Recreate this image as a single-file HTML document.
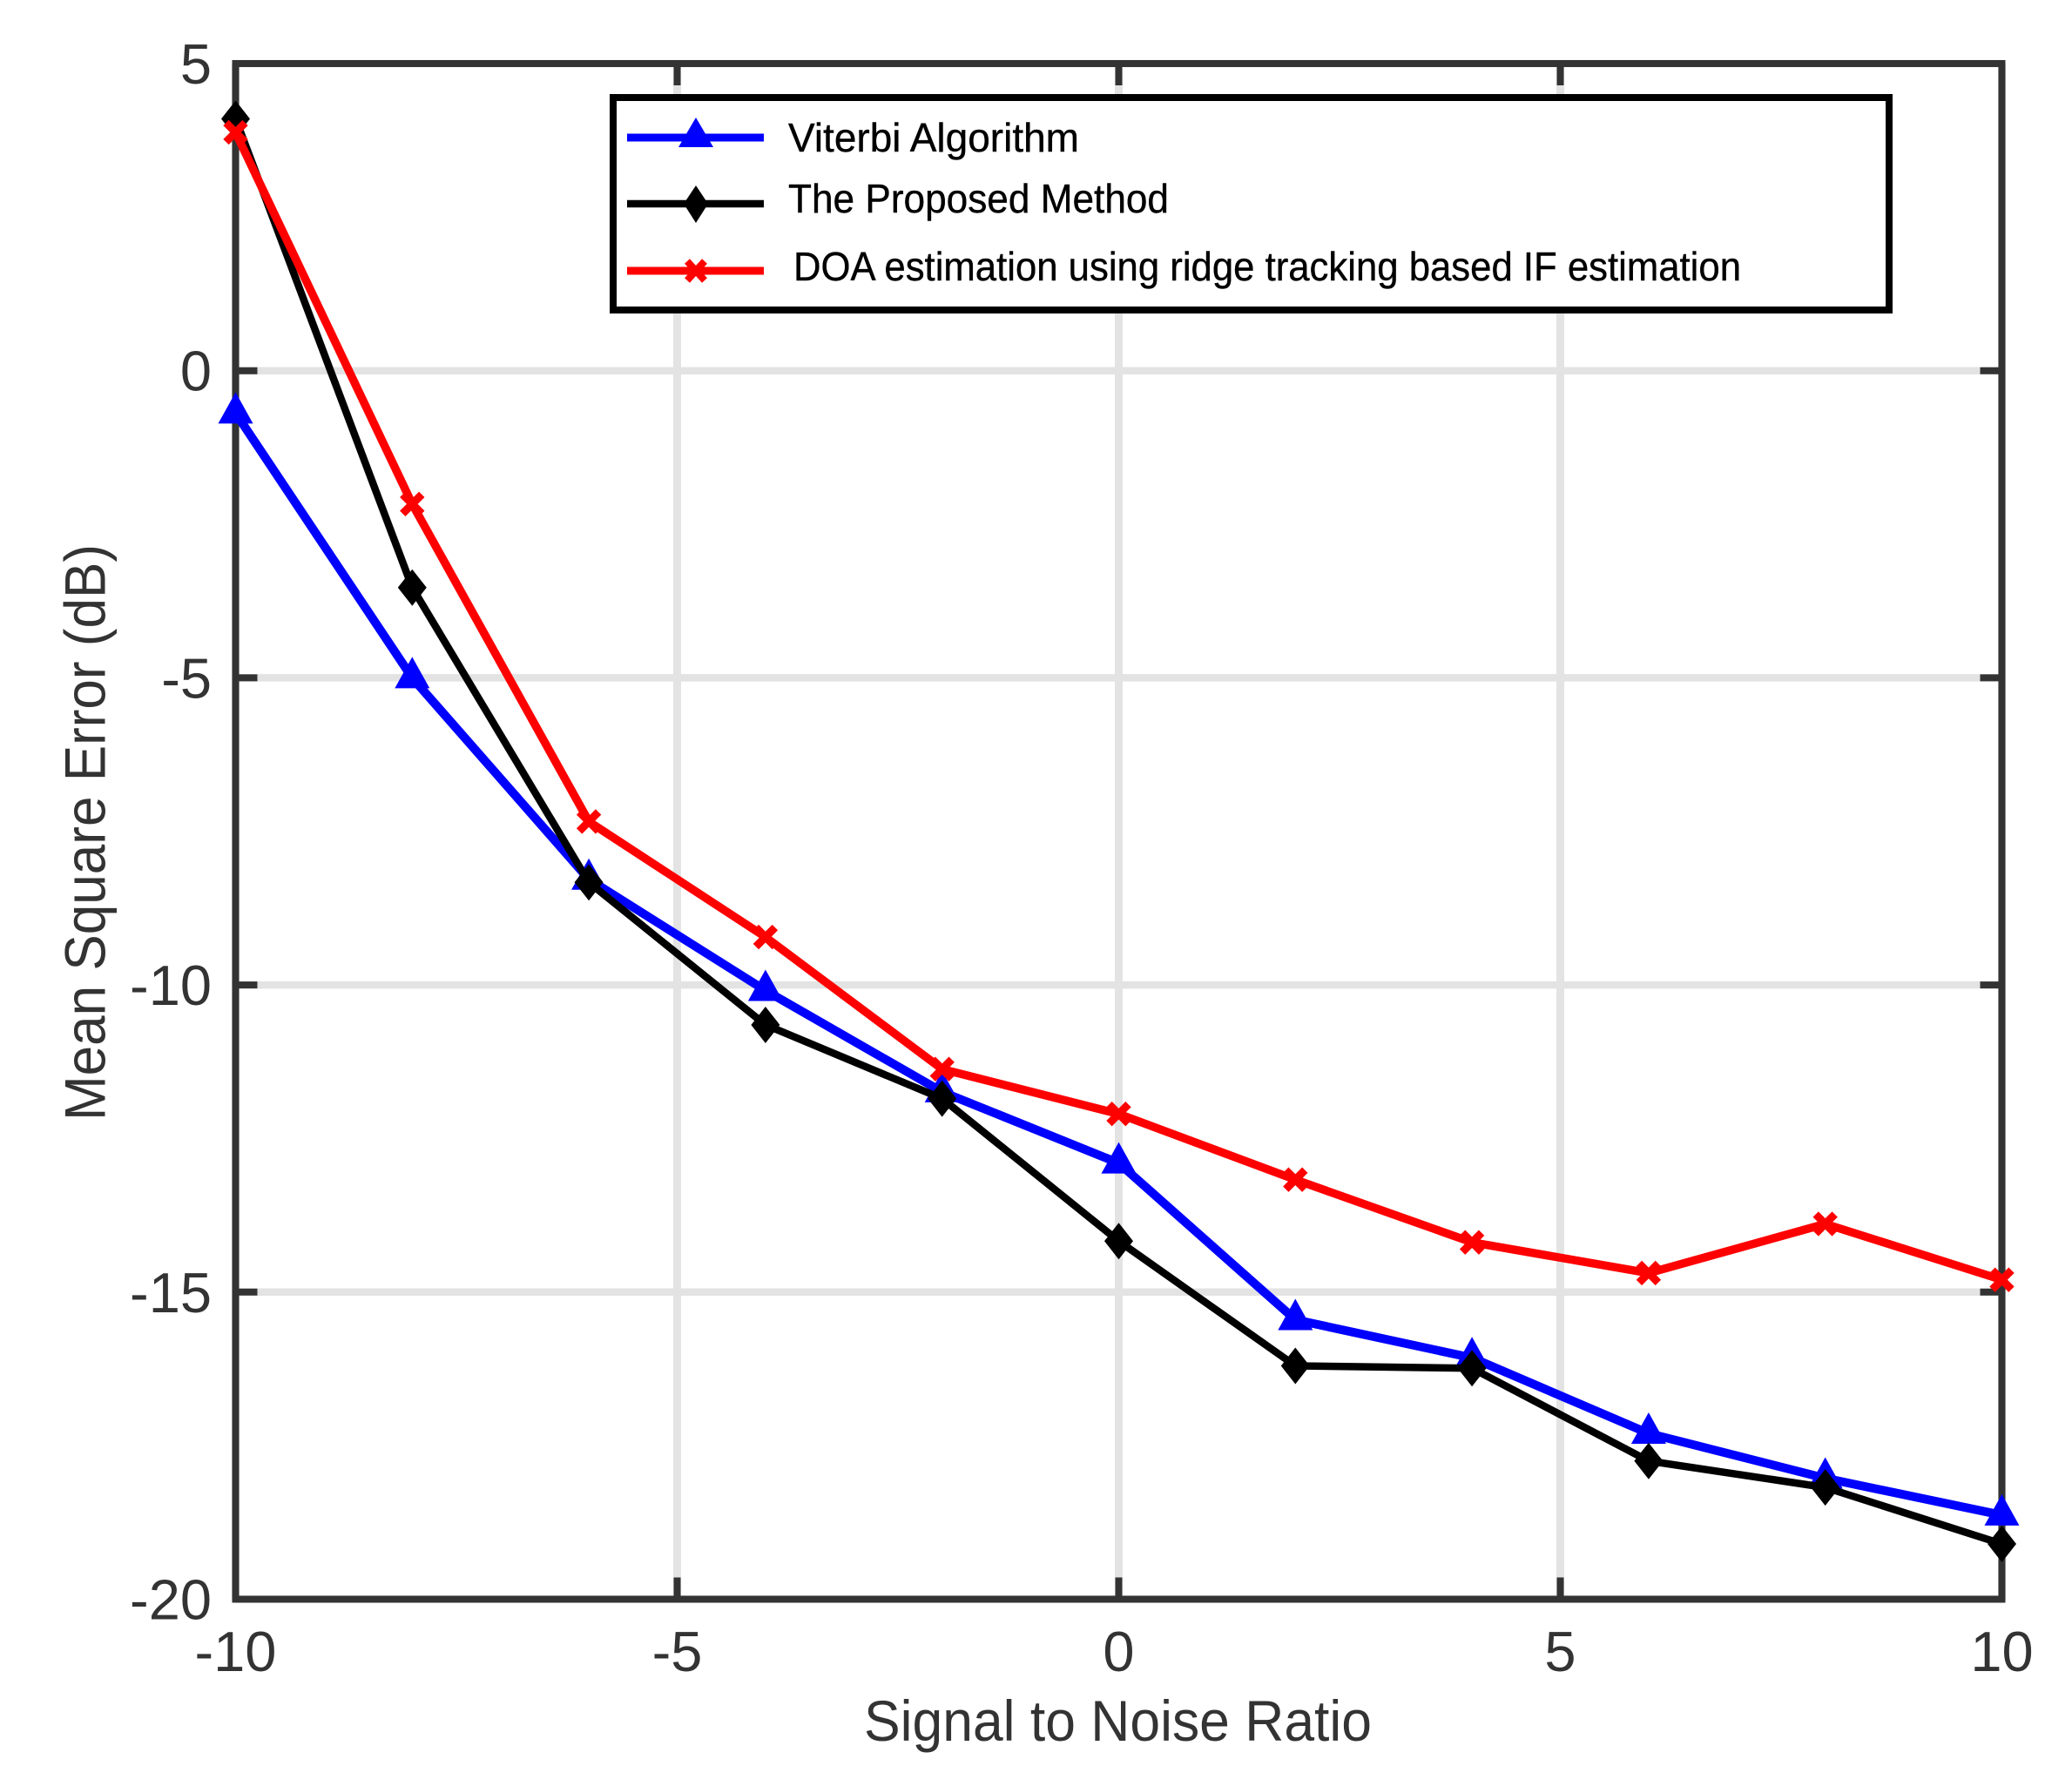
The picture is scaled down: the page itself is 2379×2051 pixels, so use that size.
<!DOCTYPE html>
<html>
<head>
<meta charset="utf-8">
<title>Mean Square Error vs Signal to Noise Ratio</title>
<style>
  html, body { margin: 0; padding: 0; background: #fff; }
  svg { display: block; }
  text { font-family: "Liberation Sans", sans-serif; }
</style>
</head>
<body>
<svg id="chart" xmlns="http://www.w3.org/2000/svg" width="2379" height="2051" viewBox="0 0 2379 2051">
  <rect x="0" y="0" width="2379" height="2051" fill="#ffffff"/>
  <g id="grid"></g>
  <g id="ticks"></g>
  <rect x="270.5" y="73" width="2028" height="1763.5" fill="none" stroke="#333333" stroke-width="8"/>
  <g id="tick-labels"></g>
  <text x="992" y="1999" font-size="66" fill="#333333" textLength="583" lengthAdjust="spacingAndGlyphs">Signal to Noise Ratio</text>
  <text transform="translate(120.5 1287) rotate(-90)" x="0" y="0" font-size="66" fill="#333333" textLength="662" lengthAdjust="spacingAndGlyphs">Mean Square Error (dB)</text>
  <g id="series"></g>
  <g>
    <rect x="704" y="112" width="1465" height="244" fill="#ffffff" stroke="#000000" stroke-width="8"/>
    <g>
      <line x1="720" y1="158" x2="877" y2="158" stroke="#0000ff" stroke-width="9"/>
      <polygon points="799,135 819,169 779,169" fill="#0000ff"/>
      <text x="905" y="174" font-size="46" fill="#000000" textLength="334" lengthAdjust="spacingAndGlyphs" stroke="#000000" stroke-width="0.4">Viterbi Algorithm</text>
    </g>
    <g>
      <line x1="720" y1="234" x2="877" y2="234" stroke="#000000" stroke-width="8.5"/>
      <polygon points="799,213 813,234 799,256 785,234" fill="#000000"/>
      <text x="905" y="244" font-size="46" fill="#000000" textLength="437" lengthAdjust="spacingAndGlyphs" stroke="#000000" stroke-width="0.4">The Proposed Method</text>
    </g>
    <g>
      <line x1="720" y1="311" x2="877" y2="311" stroke="#ff0000" stroke-width="9"/>
      <path d="M789 300 L809 322 M809 300 L789 322" stroke="#ff0000" stroke-width="8" fill="none"/>
      <text x="911" y="322" font-size="46" fill="#000000" textLength="1088" lengthAdjust="spacingAndGlyphs" stroke="#000000" stroke-width="0.4">DOA estimation using ridge tracking based IF estimation</text>
    </g>
  </g>
</svg>
<script>
const snrValues = [-10, -8, -6, -4, -2, 0, 2, 4, 6, 8, 10];
const viterbiValues = [-0.69, -5.0, -8.28, -10.09, -11.74, -12.9, -15.45, -16.07, -17.3, -18.03, -18.63];
const proposedValues = [4.1, -3.53, -8.33, -10.65, -11.85, -14.17, -16.2, -16.24, -17.75, -18.18, -19.1];
const ridgeValues = [3.88, -2.17, -7.34, -9.22, -11.37, -12.1, -13.17, -14.19, -14.69, -13.89, -14.8];
const xTickValues = [-10, -5, 0, 5, 10];
const yTickValues = [5, 0, -5, -10, -15, -20];

const NS = 'http://www.w3.org/2000/svg';
const plotLeft = 270.5, plotRight = 2298.5, plotTop = 73, plotBottom = 1836.5;
function xScale(v) { return plotLeft + (v + 10) / 20 * (plotRight - plotLeft); }
function yScale(v) { return plotTop + (5 - v) / 25 * (plotBottom - plotTop); }
function make(tag, attrs, parent) {
  const el = document.createElementNS(NS, tag);
  for (const k in attrs) el.setAttribute(k, attrs[k]);
  parent.appendChild(el);
  return el;
}
const gridG = document.getElementById('grid');
const ticksG = document.getElementById('ticks');
const labelsG = document.getElementById('tick-labels');
const seriesG = document.getElementById('series');
const tickLen = 25;

xTickValues.forEach(function (v) {
  const x = xScale(v);
  const g = make('line', {x1: x, y1: plotTop, x2: x, y2: plotBottom, stroke: '#e3e3e3', 'stroke-width': 9}, gridG);
  
  
  const t1 = make('line', {x1: x, y1: plotTop, x2: x, y2: plotTop + tickLen, stroke: '#333333', 'stroke-width': 8}, ticksG);
  
  
  const t2 = make('line', {x1: x, y1: plotBottom, x2: x, y2: plotBottom - tickLen, stroke: '#333333', 'stroke-width': 8}, ticksG);
  
  
  const lab = make('text', {x: x, y: 1919, 'font-size': 65, fill: '#333333', 'text-anchor': 'middle'}, labelsG);
  
  
  lab.textContent = String(v);
});

yTickValues.forEach(function (v) {
  const y = yScale(v);
  const g = make('line', {x1: plotLeft, y1: y, x2: plotRight, y2: y, stroke: '#e3e3e3', 'stroke-width': 8.5}, gridG);
  
  
  const t1 = make('line', {x1: plotLeft, y1: y, x2: plotLeft + tickLen, y2: y, stroke: '#333333', 'stroke-width': 8}, ticksG);
  
  
  const t2 = make('line', {x1: plotRight, y1: y, x2: plotRight - tickLen, y2: y, stroke: '#333333', 'stroke-width': 8}, ticksG);
  
  
  const lab = make('text', {x: 243, y: y + 23, 'font-size': 65, fill: '#333333', 'text-anchor': 'end'}, labelsG);
  
  
  lab.textContent = String(v);
});

function drawLine(values, color, width, name) {
  const pts = values.map(function (v, i) { return xScale(snrValues[i]) + ',' + yScale(v); }).join(' ');
  const line = make('polyline', {points: pts, fill: 'none', stroke: color, 'stroke-width': width, 'stroke-linejoin': 'round'}, seriesG);
  
  
}
function triangle(x, y) {
  const m = make('polygon', {points: x + ',' + (y - 24) + ' ' + (x + 20) + ',' + (y + 12) + ' ' + (x - 20) + ',' + (y + 12), fill: '#0000ff'}, seriesG);
  
  
}
function diamond(x, y) {
  const m = make('polygon', {points: x + ',' + (y - 21) + ' ' + (x + 16.5) + ',' + y + ' ' + x + ',' + (y + 21) + ' ' + (x - 16.5) + ',' + y, fill: '#000000'}, seriesG);
  
  
}
function cross(x, y) {
  const d = 'M' + (x - 11) + ' ' + (y - 11) + ' L' + (x + 11) + ' ' + (y + 11) + ' M' + (x + 11) + ' ' + (y - 11) + ' L' + (x - 11) + ' ' + (y + 11);
  const m = make('path', {d: d, fill: 'none', stroke: '#ff0000', 'stroke-width': 9}, seriesG);
  
  
}

drawLine(viterbiValues, '#0000ff', 10, 'viterbi-line');
viterbiValues.forEach(function (v, i) { triangle(xScale(snrValues[i]), yScale(v)); });
drawLine(proposedValues, '#000000', 8.5, 'proposed-line');
proposedValues.forEach(function (v, i) { diamond(xScale(snrValues[i]), yScale(v)); });
drawLine(ridgeValues, '#ff0000', 9.5, 'ridge-tracking-line');
ridgeValues.forEach(function (v, i) { cross(xScale(snrValues[i]), yScale(v)); });
</script>
</body>
</html>
